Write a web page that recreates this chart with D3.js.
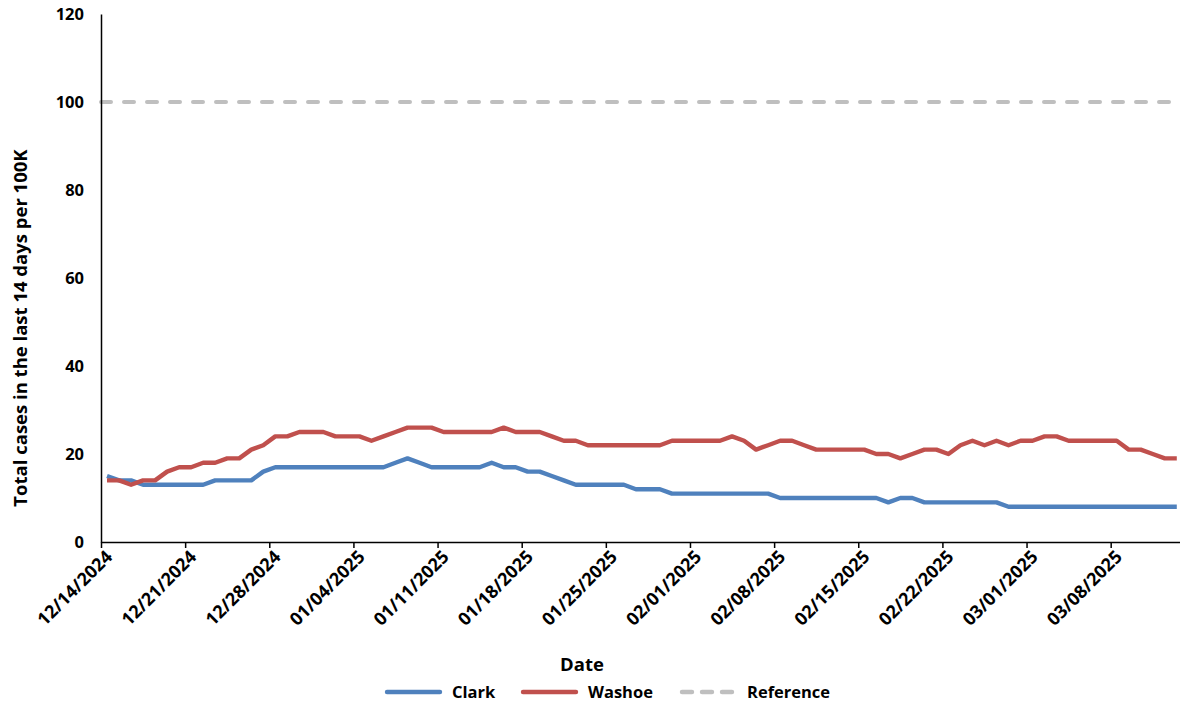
<!DOCTYPE html>
<html>
<head>
<meta charset="utf-8">
<script src="https://cdn.jsdelivr.net/npm/d3@7"></script>
<style>
  body { margin: 0; background: #fff; }
  svg { display: block; font-family: "Open Sans", sans-serif; font-weight: bold; }
</style>
</head>
<body>
<svg id="chart" width="1180" height="707"></svg>
<script>
// first day of the series, one value per day after it
const startDate = new Date(2024, 11, 14);
const clark = [15,14,14,13,13,13,13,13,13,14,14,14,14,16,17,17,17,17,
  17,17,17,17,17,17,18,19,18,17,17,17,17,17,18,17,17,
  16,16,15,14,13,13,13,13,13,12,12,12,11,11,11,11,11,11,11,11,11,
  10,10,10,10,10,10,10,10,10,9,10,10,9,9,9,9,9,9,9,
  8,8,8,8,8,8,8,8,8,8,8,8,8,8,8];
const washoe = [14,14,13,14,14,16,17,17,18,18,19,19,21,22,24,24,25,25,
  25,24,24,24,23,24,25,26,26,26,25,25,25,25,25,26,25,
  25,25,24,23,23,22,22,22,22,22,22,22,23,23,23,23,23,24,
  23,21,22,23,23,22,21,21,21,21,21,20,20,19,20,21,21,
  20,22,23,22,23,22,23,23,24,24,23,23,23,23,23,21,21,20,19,19];
const referenceValue = 100;
const yTicks = [0, 20, 40, 60, 80, 100, 120];
const seriesNames = ['Clark', 'Washoe', 'Reference'];

const colors = { Clark: '#4f81bd', Washoe: '#c0504d', Reference: '#bfbfbf' };
const dayPx = 12.02;
const margin = { left: 101, top: 14, bottom: 542 };

const svg = d3.select('#chart');
const dayAt = i => d3.timeDay.offset(startDate, i);
const nDays = clark.length;

const x = d3.scaleTime()
    .domain([startDate, dayAt(nDays)])
    .range([margin.left, margin.left + nDays * dayPx]);
const y = d3.scaleLinear().domain([0, 120]).range([margin.bottom, margin.top]);

// points sit in the middle of each day
const mid = i => x(d3.timeHour.offset(dayAt(i), 12));

// reference line
svg.append('line')
    .attr('x1', margin.left).attr('x2', x(dayAt(nDays)))
    .attr('y1', y(referenceValue)).attr('y2', y(referenceValue))
    .attr('stroke', colors.Reference).attr('stroke-width', 4)
    .attr('stroke-dasharray', '10,13').attr('stroke-linecap', 'round');

const line = d3.line().x((d, i) => mid(i)).y(d => y(d));
[['Clark', clark], ['Washoe', washoe]].forEach(([name, vals]) => {
    svg.append('path')
        .datum(vals)
        .attr('d', line)
        .attr('fill', 'none')
        .attr('stroke', colors[name])
        .attr('stroke-width', 4.4)
        .attr('stroke-linejoin', 'round');
});

// y axis
const yAxis = svg.append('g')
    .attr('transform', `translate(${margin.left},0)`)
    .call(d3.axisLeft(y).tickValues(yTicks).tickSize(0).tickPadding(17));
yAxis.select('.domain').attr('stroke', '#000').attr('stroke-width', 1.5);
yAxis.selectAll('text').attr('font-size', 16.5).attr('fill', '#000')
    .attr('font-family', '"Open Sans", sans-serif').attr('font-weight', 'bold');

// x axis, weekly ticks
const xTicks = d3.range(0, nDays, 7).map(dayAt);
const xAxis = svg.append('g')
    .attr('transform', `translate(0,${margin.bottom})`)
    .call(d3.axisBottom(x).tickValues(xTicks).tickFormat(d3.timeFormat('%m/%d/%Y')).tickSize(6).tickSizeOuter(0));
xAxis.select('.domain').attr('stroke', '#000').attr('stroke-width', 1.5);
xAxis.selectAll('.tick line').attr('stroke', '#000').attr('stroke-width', 1.5);
xAxis.selectAll('text')
    .attr('font-size', 18).attr('fill', '#000')
    .attr('font-family', '"Open Sans", sans-serif').attr('font-weight', 'bold')
    .attr('text-anchor', 'end')
    .attr('dy', null).attr('y', 0)
    .attr('transform', 'translate(12,16) rotate(-45)');

// axis titles
svg.append('text')
    .attr('x', 582).attr('y', 671)
    .attr('text-anchor', 'middle').attr('font-size', 18.5)
    .text('Date');
svg.append('text')
    .attr('transform', 'translate(27,328) rotate(-90)')
    .attr('text-anchor', 'middle').attr('font-size', 18.5)
    .text('Total cases in the last 14 days per 100K');

// legend
const legendX = [385, 521, 680];
const legend = svg.append('g');
seriesNames.forEach((name, i) => {
    const g = legend.append('g').attr('transform', `translate(${legendX[i]},692)`);
    g.append('line')
        .attr('x1', 2).attr('x2', 55)
        .attr('stroke', colors[name]).attr('stroke-width', 4.4)
        .attr('stroke-linecap', 'round')
        .attr('stroke-dasharray', name === 'Reference' ? '10,10' : null);
    g.append('text')
        .attr('x', 67).attr('y', 6)
        .attr('font-size', 16.5)
        .text(name);
});
</script>
</body>
</html>
